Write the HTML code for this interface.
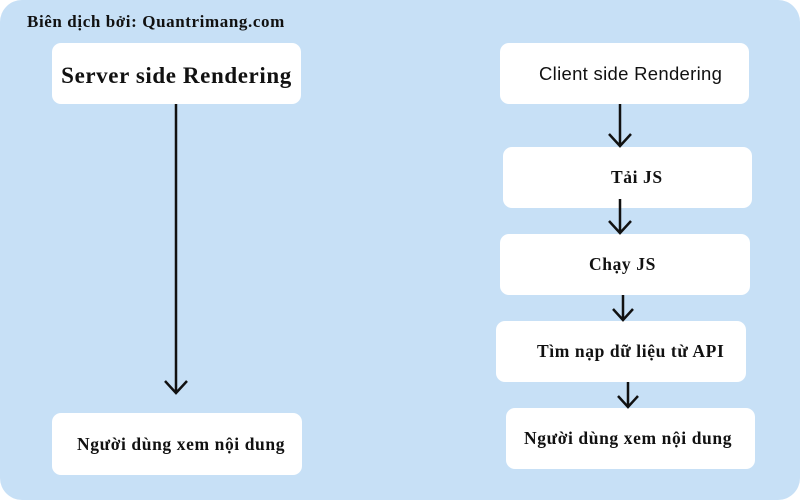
<!DOCTYPE html>
<html><head><meta charset="utf-8"><style>
body{margin:0;width:800px;height:500px;background:#fff;overflow:hidden}
.bg{position:absolute;left:0;top:0;width:800px;height:500px;background:#c7e0f6;border-radius:22px}
.b{position:absolute;background:#fff;border-radius:9px;font-family:"Liberation Serif",serif;font-weight:bold;color:#111;display:flex;align-items:center;box-sizing:border-box;white-space:nowrap;letter-spacing:0.6px}
.t{position:absolute;font-family:"Liberation Serif",serif;font-weight:bold;font-size:17px;color:#111;letter-spacing:0.6px}
svg{position:absolute;left:0;top:0}
</style></head><body>
<div class="bg"></div>
<div class="t" style="left:27px;top:12px">Biên dịch bởi: Quantrimang.com</div>
<div class="b" style="left:52px;top:43px;width:249px;height:61px;font-size:23px;justify-content:center;padding-top:4px">Server side Rendering</div>
<div class="b" style="left:52px;top:413px;width:250px;height:62px;font-size:17.5px;padding-left:25px">Người dùng xem nội dung</div>
<div class="b" style="left:500px;top:43px;width:249px;height:61px;font-size:18.5px;font-family:'Liberation Sans',sans-serif;font-weight:normal;letter-spacing:0.3px;padding-left:39px">Client side Rendering</div>
<div class="b" style="left:503px;top:147px;width:249px;height:61px;font-size:17.5px;padding-left:108px">Tải JS</div>
<div class="b" style="left:500px;top:234px;width:250px;height:61px;font-size:17.5px;padding-left:89px">Chạy JS</div>
<div class="b" style="left:496px;top:321px;width:250px;height:61px;font-size:17.5px;padding-left:41px">Tìm nạp dữ liệu từ API</div>
<div class="b" style="left:506px;top:408px;width:249px;height:61px;font-size:17.5px;padding-left:18px">Người dùng xem nội dung</div>
<svg width="800" height="500" fill="none" stroke="#111" stroke-width="2.5">
<path d="M176 104V393M165 381L176 393L187 381"/>
<path d="M620 104V146M609 134L620 146L631 134"/>
<path d="M620 199V233M609 221L620 233L631 221"/>
<path d="M623 295V320M613 309L623 320L633 309"/>
<path d="M628 382V407M618 396L628 407L638 396"/>
</svg>
</body></html>
